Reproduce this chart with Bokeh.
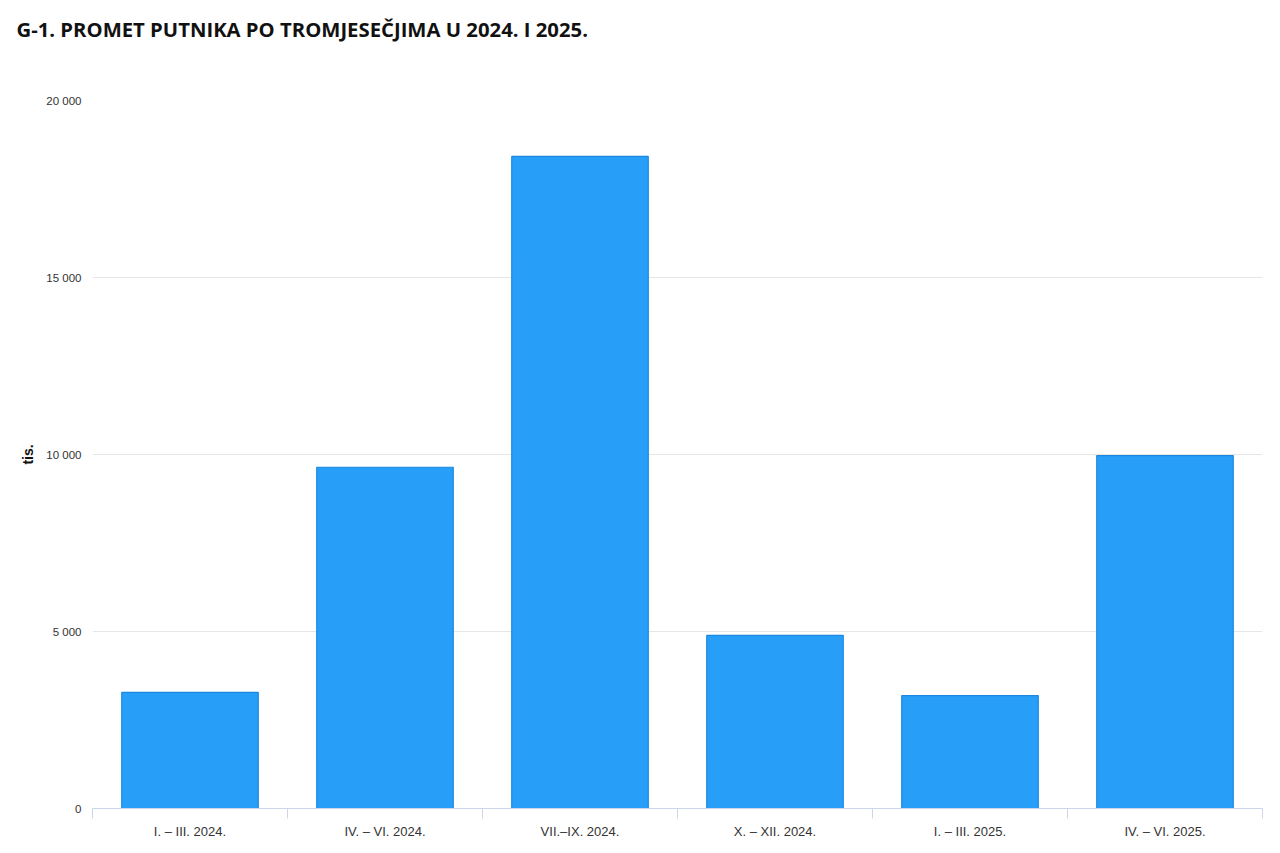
from bokeh.plotting import figure
from bokeh.models import Range1d, FixedTicker, ColumnDataSource, Title
from bokeh.embed import file_html
from bokeh.resources import INLINE

title_text = "G-1. PROMET PUTNIKA PO TROMJESEČJIMA U 2024. I 2025."
categories = ["I. – III. 2024.", "IV. – VI. 2024.", "VII.–IX. 2024.",
              "X. – XII. 2024.", "I. – III. 2025.", "IV. – VI. 2025."]
values = [3280, 9640, 18420, 4890, 3190, 9970]
y_ticks = [0, 5000, 10000, 15000, 20000]
y_tick_labels = ["0", "5 000", "10 000", "15 000", "20 000"]
y_label = "tis."

centers = [i + 0.5 for i in range(len(categories))]
bounds = list(range(len(categories) + 1))

src = ColumnDataSource(dict(x=centers, top=values, cat=categories))

p = figure(width=1264, height=845, x_range=Range1d(0, len(categories)),
           y_range=Range1d(0, 20000), output_backend="svg", toolbar_location=None,
           min_border_left=92, min_border_right=2, min_border_top=100,
           min_border_bottom=37, title=None)
p.outline_line_color = None
p.background_fill_color = "white"
p.border_fill_color = "white"

# spacer between frame and title (closest to the frame)
p.add_layout(Title(text=" ", text_font_size="1px", standoff=55), "above")
# main title (stacked above the spacer)
p.add_layout(Title(text=title_text, text_font="Open Sans", text_font_size="20.3px",
                   text_font_style="bold", text_color="#111111", align="left",
                   offset=-76, standoff=0), "above")

p.vbar(x="x", top="top", width=0.7, bottom=0, source=src,
       fill_color="#279ff9", line_color="#1a88e0", line_width=1.2)

# x axis
p.xaxis.ticker = FixedTicker(ticks=centers, minor_ticks=bounds)
p.xaxis.major_label_overrides = {c: lab for c, lab in zip(centers, categories)}
p.xaxis.major_tick_line_color = None
p.xaxis.minor_tick_out = 10
p.xaxis.minor_tick_in = 0
p.xaxis.minor_tick_line_color = "#ccd6eb"
p.xaxis.axis_line_color = "#ccd6eb"
p.xaxis.major_label_text_font = "Liberation Sans"
p.xaxis.major_label_text_font_size = "13px"
p.xaxis.major_label_text_color = "#333333"
p.xaxis.major_label_standoff = 5
p.xgrid.grid_line_color = None

# y axis
p.yaxis.ticker = FixedTicker(ticks=y_ticks)
p.yaxis.major_label_overrides = {t: l for t, l in zip(y_ticks, y_tick_labels)}
p.yaxis.axis_line_color = None
p.yaxis.major_tick_line_color = None
p.yaxis.major_tick_out = 0
p.yaxis.major_tick_in = 0
p.yaxis.minor_tick_line_color = None
p.yaxis.minor_tick_out = 0
p.yaxis.major_label_text_font = "Liberation Sans"
p.yaxis.major_label_text_font_size = "11.5px"
p.yaxis.major_label_text_color = "#333333"
p.yaxis.major_label_standoff = 11
p.yaxis.axis_label = y_label
p.yaxis.axis_label_text_font = "Liberation Sans"
p.yaxis.axis_label_text_font_size = "14px"
p.yaxis.axis_label_text_font_style = "bold"
p.yaxis.axis_label_text_color = "#111111"
p.yaxis.axis_label_standoff = 7
p.ygrid.grid_line_color = "#e6e6e6"
p.ygrid.grid_line_width = 1

with open("out.html", "w") as f:
    f.write(file_html(p, INLINE))
